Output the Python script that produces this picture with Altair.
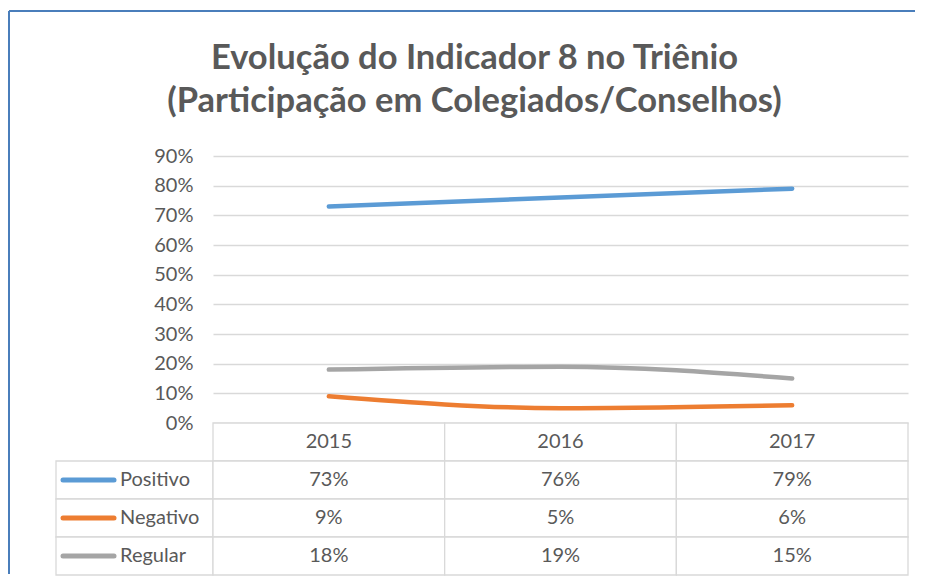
import altair as alt
import pandas as pd

# ---- data ----
years = ["2015", "2016", "2017"]
series = ["Positivo", "Negativo", "Regular"]
positivo = [0.73, 0.76, 0.79]
negativo = [0.09, 0.05, 0.06]
regular = [0.18, 0.19, 0.15]
colors = ["#5B9BD5", "#ED7D31", "#A5A5A5"]
y_ticks = [0.0, 0.1, 0.2, 0.3, 0.4, 0.5, 0.6, 0.7, 0.8, 0.9]
title_lines = ["Evolução do Indicador 8 no Triênio",
               "(Participação em Colegiados/Conselhos)"]
header_key = "Ano"

FONT = "Lato"
TXT = "#595959"
GRID = "#D9D9D9"
FRAME = "#4A7EBB"

rows = []
for s, vals in zip(series, [positivo, negativo, regular]):
    for y, v in zip(years, vals):
        rows.append({"Ano": y, "Linha": s, "Valor": v})
df = pd.DataFrame(rows)
row_domain = [header_key] + series
grid_df = pd.DataFrame([{"Ano": y, "Linha": r} for r in row_domain for y in years])
hdr_df = pd.DataFrame({"Ano": years, "Linha": [header_key] * len(years)})
leg_df = pd.DataFrame({"Linha": series})

color = alt.Color("Linha:N", scale=alt.Scale(domain=series, range=colors), legend=None)

# ---- top: line chart ----
line = alt.Chart(df).mark_line(strokeWidth=4.5, interpolate="monotone", strokeCap="round").encode(
    x=alt.X("Ano:N", scale=alt.Scale(type="point", domain=years, padding=0.5), axis=None),
    y=alt.Y("Valor:Q", scale=alt.Scale(domain=[0, 0.9], nice=False, zero=True),
            axis=alt.Axis(values=y_ticks, format=".0%", title=None, ticks=False, domain=False,
                          labelFont=FONT, labelFontSize=20, labelColor=TXT, labelPadding=20,
                          gridColor=GRID, gridWidth=1.3)),
    color=color,
).properties(
    width=695, height=267,
    title=alt.TitleParams(text=title_lines, font=FONT, fontSize=34.5, fontWeight="bold",
                          color=TXT, anchor="middle", frame="group", lineHeight=43,
                          offset=27, dx=-86),
)

# chart-area frame (decoration) in the empty top-left cell
frame_df = pd.DataFrame({"k": [0]})
frame_left = alt.Chart(frame_df).mark_rule(color=FRAME, strokeWidth=2).encode(
    x=alt.value(-47), y=alt.value(-145), y2=alt.value(418))
frame_top = alt.Chart(frame_df).mark_rule(color=FRAME, strokeWidth=2).encode(
    x=alt.value(-47), x2=alt.value(859), y=alt.value(-145))
spacer = alt.layer(frame_left, frame_top).properties(width=157, height=267)

# ---- bottom: data table ----
tx = alt.X("Ano:N", scale=alt.Scale(domain=years, paddingInner=0, paddingOuter=0), axis=None)
ty = alt.Y("Linha:N", scale=alt.Scale(domain=row_domain, paddingInner=0, paddingOuter=0), axis=None)

cells = alt.Chart(grid_df).mark_rect(fill="white", stroke=GRID, strokeWidth=1.3).encode(x=tx, y=ty)
hdr_txt = alt.Chart(hdr_df).mark_text(font=FONT, fontSize=20, color=TXT).encode(
    x=tx, y=ty, text="Ano:N")
val_txt = alt.Chart(df).mark_text(font=FONT, fontSize=20, color=TXT).encode(
    x=tx, y=ty, text=alt.Text("Valor:Q", format=".0%"))
table = alt.layer(cells, hdr_txt, val_txt).properties(width=695, height=152)

# ---- bottom-left: legend column ----
lbase = alt.Chart(leg_df).encode(y=ty)
lcells = lbase.mark_rect(fill="white", stroke=GRID, strokeWidth=1.3).encode(
    x=alt.value(0), x2=alt.value(157))
swatch = lbase.mark_rule(strokeWidth=5, strokeCap="round").encode(
    x=alt.value(7), x2=alt.value(58), color=color)
ltxt = lbase.mark_text(align="left", font=FONT, fontSize=20, color=TXT).encode(
    x=alt.value(64), text="Linha:N")
legcol = alt.layer(lcells, swatch, ltxt).properties(width=157, height=152)

chart = alt.concat(
    spacer, line, legcol, table, columns=2, spacing=0, bounds="flush", align="each"
).properties(
    padding={"left": 0, "top": 2, "right": 0, "bottom": 2},
).configure_view(stroke=None)

chart.save("out.html", embed_options={"renderer": "svg", "actions": False})
